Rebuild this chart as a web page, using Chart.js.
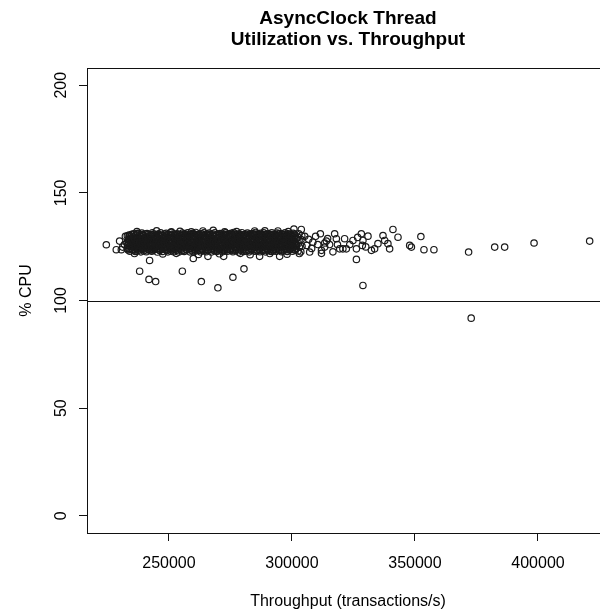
<!DOCTYPE html>
<html>
<head>
<meta charset="utf-8">
<script src="https://cdn.jsdelivr.net/npm/chart.js@4/dist/chart.umd.min.js"></script>
<style>
html,body{margin:0;padding:0;background:#fff;overflow:hidden;}
canvas{display:block;}
</style>
</head>
<body>
<canvas id="c" width="620" height="613"></canvas>
<script>
// ---- text ----
const titleLines = ["AsyncClock Thread", "Utilization vs. Throughput"];
const xAxisTitle = "Throughput (transactions/s)";
const yAxisTitle = "% CPU";

// ---- tick labels ----
const xTicks = [250000, 300000, 350000, 400000];
const yTicks = [0, 50, 100, 150, 200];
const referenceCPU = 100;

// ---- dense cluster, layer A (throughput, % CPU) ----
const blobThroughput = [
233000,233500,233200,233700,232900,233400,
234100,234600,234300,234000,234500,234200,
235300,235800,235400,235700,235200,235600,
236300,236800,236500,236200,236700,236400,
237500,237900,237600,238000,237400,237800,
238600,239100,238700,238900,238500,239000,
239700,240200,239800,240100,239600,240000,
240800,241300,240900,241200,240700,241100,
242000,242400,242100,242500,241900,242300,
243000,243500,243100,243400,242900,243300,
244100,244600,244200,244500,244000,244400,
245300,245700,245400,245800,245200,245600,
246300,246800,246400,246700,246200,246600,
247400,247900,247500,247800,247300,247700,
248600,249000,248700,249100,248500,248900,
249600,250100,249700,250000,249500,249900,
250700,251200,250800,251100,250600,251000,
251900,252300,252000,252400,251800,252200,
252900,253400,253000,253300,252800,253200,
254000,254500,254100,254400,253900,254300,
255200,255600,255300,255700,255100,255500,
256200,256700,256300,256600,256100,256500,
257300,257800,257400,257700,257200,257600,
258500,258900,258600,259000,258400,258800,
259500,260000,259600,259900,259400,259800,
260600,261100,260700,261000,260500,260900,
261800,262200,261900,262300,261700,262100,
262800,263300,262900,263200,262700,263100,
263900,264400,264000,264300,263800,264200,
265100,265500,265200,265600,265000,265400,
266100,266600,266200,266500,266000,266400,
267200,267700,267300,267600,267100,267500,
268400,268800,268500,268900,268300,268700,
269400,269900,269500,269800,269300,269700,
270500,271000,270600,270900,270400,270800,
271700,272100,271800,272200,271600,272000,
272700,273200,272800,273100,272600,273000,
273800,274300,273900,274200,273700,274100,
275000,275400,275100,275500,274900,275300,
276000,276500,276100,276400,275900,276300,
277100,277600,277200,277500,277000,277400,
278300,278700,278400,278800,278200,278600,
279300,279800,279400,279700,279200,279600,
280400,280900,280500,280800,280300,280700,
281600,282000,281700,282100,281500,281900,
282600,283100,282700,283000,282500,282900,
283700,284200,283800,284100,283600,284000,
284900,285300,285000,285400,284800,285200,
285900,286400,286000,286300,285800,286200,
287000,287500,287100,287400,286900,287300,
288200,288600,288300,288700,288100,288500,
289200,289700,289300,289600,289100,289500,
290300,290800,290400,290700,290200,290600,
291500,291900,291600,292000,291400,291800,
292500,293000,292600,292900,292400,292800,
293600,294100,293700,294000,293500,293900,
294800,295200,294900,295300,294700,295100,
295800,296300,295900,296200,295700,296100,
296900,297400,297000,297300,296800,297200,
298100,298500,298200,298600,298000,298400,
299100,299600,299200,299500,299000,299400,
300200,300700,300300,300600,300100,300500,
301400,301800,301500,301900,301300,301700,
302500,303000,302600,302900,302400,302800,
303600,304100,303700,304000
];
const blobCpu = [
124.1,127.3,125.6,129.0,126.8,123.5,
122.9,125.4,128.1,130.2,126.7,124.0,
123.6,126.2,129.4,131.0,124.9,127.7,
122.8,124.5,127.0,128.6,130.5,125.8,
123.3,125.1,126.5,128.9,131.2,127.6,
122.6,124.3,126.0,127.9,129.7,131.3,
123.1,125.7,124.4,128.4,130.0,127.0,
122.7,124.9,126.6,128.0,129.5,131.1,
123.4,125.2,127.3,126.1,129.9,128.6,
122.9,124.6,126.4,128.2,130.6,131.5,
123.8,125.5,127.1,129.1,124.2,130.3,
122.5,124.1,126.9,125.6,128.5,130.9,
123.2,125.0,126.3,128.0,129.6,131.4,
122.8,124.7,127.5,126.0,130.1,128.8,
123.6,125.3,126.8,128.3,129.9,131.2,
122.6,124.2,125.9,127.6,129.3,130.7,
123.0,124.8,126.5,128.1,130.4,131.6,
122.7,125.6,124.0,127.4,129.0,130.8,
123.3,124.9,126.2,128.7,127.8,131.0,
122.5,124.4,126.0,127.7,129.4,130.5,
123.1,125.2,126.9,128.3,130.1,131.3,
122.8,124.6,125.8,127.5,129.2,130.9,
123.5,125.0,126.6,128.9,128.0,131.5,
122.6,124.3,126.1,127.3,129.7,130.6,
123.0,125.5,124.7,128.2,129.9,131.2,
122.9,124.5,126.3,127.9,130.3,131.6,
123.4,125.1,126.8,128.4,129.1,130.7,
122.6,124.0,126.0,127.6,129.5,131.0,
123.2,125.4,126.7,128.5,130.2,131.4,
122.7,124.8,125.9,127.4,129.3,130.8,
123.6,125.1,127.0,128.7,130.0,131.3,
122.5,124.2,126.4,127.8,129.6,130.5,
123.1,124.9,126.2,128.1,129.8,131.5,
122.8,125.6,124.4,127.5,130.4,128.9,
123.4,125.0,126.6,128.3,129.2,131.1,
122.6,124.5,125.8,127.2,129.7,130.6,
123.0,124.7,126.9,128.6,130.1,131.4,
122.9,125.3,126.1,127.7,129.4,130.9,
123.5,124.3,126.5,128.0,129.9,131.2,
122.7,125.1,126.3,127.9,130.5,131.6,
123.2,124.8,126.7,128.4,129.1,130.7,
122.5,124.4,126.0,127.6,129.6,131.0,
123.3,125.5,126.8,128.2,130.2,131.5,
122.8,124.6,125.7,127.3,129.0,130.6,
123.0,125.0,126.4,128.7,130.0,131.3,
122.6,124.2,126.2,127.8,129.5,130.9,
123.4,125.3,126.9,128.5,129.8,131.1,
122.9,124.7,126.1,127.5,130.3,131.6,
123.1,125.2,126.6,128.1,129.3,130.7,
122.7,124.5,125.9,127.7,129.9,131.2,
123.5,124.9,126.5,128.3,130.1,131.4,
122.6,124.3,126.3,127.9,129.2,130.8,
123.2,125.4,126.7,128.6,129.7,131.0,
122.8,124.6,126.0,127.4,130.4,131.5,
123.0,125.1,126.8,128.2,129.5,130.6,
122.9,124.4,126.2,127.8,129.9,131.3,
123.4,125.0,126.4,128.5,130.2,131.1,
122.7,124.8,126.6,127.6,129.4,130.7,
123.3,125.3,126.1,128.0,129.8,131.4,
122.8,124.5,126.7,127.5,130.0,131.0,
123.6,125.2,126.3,128.4,129.2,130.6,
122.9,124.7,126.9,127.8,129.6,131.2,
123.5,125.6,126.2,128.7,130.3,124.3,
123.0,124.9,126.5,127.9,129.5,131.0,
122.6,125.2,128.3,130.1
];

// ---- dense cluster, layer B (throughput, % CPU) ----
const blobThroughputB = [
233700,234000,233600,233900,233800,
234900,235100,234800,235000,234900,
236000,236200,235900,236100,236000,
237100,237300,237000,237200,237100,
238200,238400,238100,238300,238200,
239300,239500,239200,239400,239300,
240400,240600,240300,240500,240400,
241500,241700,241400,241600,241500,
242600,242900,242700,242800,242600,
243700,244000,243800,243900,243700,
244900,245100,244800,245000,244900,
246000,246200,245900,246100,246000,
247100,247300,247000,247200,247100,
248200,248400,248100,248300,248200,
249300,249500,249200,249400,249300,
250400,250600,250300,250500,250400,
251500,251700,251400,251600,251500,
252600,252800,252500,252700,252600,
253700,253900,253600,253800,253700,
254800,255000,254700,254900,254800,
255900,256100,255800,256000,255900,
257000,257200,256900,257100,257000,
258100,258300,258000,258200,258100,
259200,259400,259100,259300,259200,
260300,260500,260200,260400,260300,
261400,261600,261300,261500,261400,
262500,262700,262400,262600,262500,
263600,263800,263500,263700,263600,
264700,264900,264600,264800,264700,
265800,266000,265700,265900,265800,
266900,267100,266800,267000,266900,
268000,268200,267900,268100,268000,
269100,269300,269000,269200,269100,
270200,270400,270100,270300,270200,
271300,271500,271200,271400,271300,
272400,272600,272300,272500,272400,
273500,273700,273400,273600,273500,
274600,274800,274500,274700,274600,
275700,275900,275600,275800,275700,
276800,277000,276700,276900,276800,
277900,278100,277800,278000,277900,
279000,279200,278900,279100,279000,
280100,280300,280000,280200,280100,
281200,281400,281100,281300,281200,
282300,282500,282200,282400,282300,
283400,283600,283300,283500,283400,
284500,284700,284400,284600,284500,
285600,285800,285500,285700,285600,
286700,286900,286600,286800,286700,
287800,288000,287700,287900,287800,
288900,289100,288800,289000,288900,
290000,290200,289900,290100,290000,
291100,291300,291000,291200,291100,
292200,292400,292100,292300,292200,
293300,293500,293200,293400,293300,
294400,294600,294300,294500,294400,
295500,295700,295400,295600,295500,
296600,296800,296500,296700,296600,
297700,297900,297600,297800,297700,
298800,299000,298700,298900,298800,
299900,300100,299800,300000,299900,
301000,301200,300900,301100,301000
];
const blobCpuB = [
123.9,125.5,127.0,128.5,130.4,
123.7,125.3,127.4,128.9,130.7,
123.4,125.0,126.8,128.4,130.0,
123.9,125.6,127.3,129.2,131.0,
123.6,125.4,127.1,128.7,130.4,
123.8,125.0,126.9,128.8,130.6,
123.5,125.3,127.2,129.0,130.8,
123.9,125.8,127.5,128.7,130.5,
123.6,125.0,126.9,128.5,130.2,
123.4,125.2,127.4,129.1,130.9,
123.8,125.6,126.9,128.6,130.4,
123.5,125.3,127.2,128.9,130.6,
123.9,125.5,126.8,128.5,130.3,
123.7,125.1,127.1,129.0,130.8,
123.4,125.7,127.3,128.8,130.5,
123.8,125.4,126.9,128.6,130.2,
123.6,125.2,127.2,129.2,130.9,
123.9,125.6,127.4,128.9,130.4,
123.5,125.1,126.8,128.5,130.7,
123.8,125.5,127.1,128.7,130.3,
123.4,125.3,127.3,129.0,130.6,
123.7,125.6,126.9,128.6,130.8,
123.9,125.2,127.2,128.8,130.4,
123.5,125.4,127.4,129.1,130.9,
123.8,125.7,127.0,128.5,130.2,
123.6,125.1,126.8,128.9,130.6,
123.4,125.5,127.3,128.7,130.4,
123.9,125.3,127.1,129.0,130.8,
123.7,125.6,127.4,128.6,130.3,
123.5,125.2,126.9,128.8,130.7,
123.8,125.4,127.2,129.1,130.5,
123.6,125.7,127.0,128.5,130.9,
123.4,125.1,127.3,128.9,130.2,
123.9,125.5,126.8,128.7,130.6,
123.7,125.3,127.1,129.0,130.4,
123.5,125.6,127.4,128.6,130.8,
123.8,125.2,126.9,128.8,130.3,
123.6,125.4,127.2,129.1,130.7,
123.4,125.7,127.0,128.5,130.5,
123.9,125.1,127.3,128.9,130.9,
123.7,125.5,126.8,128.7,130.2,
123.5,125.3,127.1,129.0,130.6,
123.8,125.6,127.4,128.6,130.4,
123.6,125.2,126.9,128.8,130.8,
123.4,125.4,127.2,129.1,130.3,
123.9,125.7,127.0,128.5,130.7,
123.7,125.1,127.3,128.9,130.5,
123.5,125.5,126.8,128.7,130.9,
123.8,125.3,127.1,129.0,130.2,
123.6,125.6,127.4,128.6,130.6,
123.4,125.2,126.9,128.8,130.4,
123.9,125.4,127.2,129.1,130.8,
123.7,125.7,127.0,128.5,130.3,
123.5,125.1,127.3,128.9,130.7,
123.8,125.5,126.8,128.7,130.5,
123.6,125.3,127.1,129.0,130.9,
123.4,125.6,127.4,128.6,130.2,
123.9,125.2,126.9,128.8,130.6,
123.7,125.4,127.2,129.1,130.4,
123.5,125.7,127.0,128.5,130.8,
123.8,125.1,127.3,128.9,130.3,
123.6,125.5,126.8,128.7,130.7
];

// ---- ragged edge of the cluster (throughput, % CPU) ----
const edgeThroughput = [
237000,245000,254500,268000,277500,289000,298500,300800,
236000,247500,253000,262000,270500,279000,283000,291000,298000,303000
];
const edgeCpu = [
132.0,132.4,132.1,132.6,132.0,132.4,132.0,133.2,
121.8,121.6,121.9,121.4,121.7,121.9,121.3,121.8,121.5,121.8
];

// ---- scattered points (throughput, % CPU) ----
const sparseThroughput = [
224550,228600,230650,229950,231900,232300,231200,
242150,238100,241900,244600,255450,259900,263170,265850,269900,
272250,276000,280500,286850,295000,
250980,259100,263800,272650,284850,294300,303800,233100,
305200,306000,306800,307200,308000,308500,309600,310500,311550,312000,
313300,313300,314000,314500,315300,316650,317350,318050,318500,319400,
320700,321400,322100,323500,324800,326200,326200,326700,328200,328850,
328600,328850,330000,330900,332300,333600,334950,337000,337700,339000,
339700,341050,343100,347850,348550,352400,353650,357700,371800,372850,
382400,386450,398400,421000,312000
];
const sparseCpu = [
125.9,123.6,123.6,127.6,126.0,129.8,124.8,
118.6,113.6,109.8,108.8,113.6,119.5,108.8,120.5,105.9,
120.5,110.8,114.7,120.5,120.5,
131.9,131.9,132.3,131.9,132.3,132.3,133.0,130.0,
129.8,125.6,128.4,122.5,124.2,127.1,129.8,126.0,131.0,123.3,
126.7,124.8,127.6,128.8,126.0,122.6,131.0,128.7,126.0,124.0,
124.0,128.7,124.0,126.0,127.9,124.0,119.1,129.3,131.0,127.9,
125.6,107.0,124.9,129.9,123.3,124.0,126.4,130.2,127.9,126.4,
124.0,133.0,129.4,125.6,124.8,129.7,123.6,123.6,122.5,91.8,
124.8,124.8,126.7,127.6,121.9
];

const points = [];
blobThroughput.forEach((v, i) => points.push({x: v, y: blobCpu[i]}));
blobThroughputB.forEach((v, i) => points.push({x: v, y: blobCpuB[i]}));
edgeThroughput.forEach((v, i) => points.push({x: v, y: edgeCpu[i]}));
sparseThroughput.forEach((v, i) => points.push({x: v, y: sparseCpu[i]}));

const FONT = "'Liberation Sans', Arial, Helvetica, sans-serif";

const decor = {
  id: 'decor',
  afterDatasetsDraw(chart) {
    const {ctx, chartArea: a, scales: {x, y}} = chart;
    ctx.save();
    ctx.strokeStyle = '#111';
    ctx.lineWidth = 1;
    // reference line
    const yr = Math.round(y.getPixelForValue(referenceCPU)) + 0.5;
    ctx.beginPath(); ctx.moveTo(a.left, yr); ctx.lineTo(a.right, yr); ctx.stroke();
    // plot box
    ctx.strokeRect(Math.round(a.left) + 0.5, Math.round(a.top) + 0.5,
                   Math.round(a.right - a.left), Math.round(a.bottom - a.top));
    ctx.fillStyle = '#000';
    // x tick labels
    ctx.font = '16px ' + FONT;
    ctx.textAlign = 'center';
    ctx.textBaseline = 'alphabetic';
    x.ticks.forEach(t => ctx.fillText(String(t.value), x.getPixelForValue(t.value), a.bottom + 35));
    // y tick labels (rotated)
    y.ticks.forEach(t => {
      ctx.save();
      ctx.translate(a.left - 21.5, y.getPixelForValue(t.value));
      ctx.rotate(-Math.PI / 2);
      ctx.fillText(String(t.value), 0, 0);
      ctx.restore();
    });
    // axis titles
    const cx = (a.left + a.right) / 2;
    ctx.fillText(xAxisTitle, cx, a.bottom + 73);
    ctx.save();
    ctx.translate(31, (a.top + a.bottom) / 2 - 10);
    ctx.rotate(-Math.PI / 2);
    ctx.fillText(yAxisTitle, 0, 0);
    ctx.restore();
    // main title
    ctx.font = 'bold 19px ' + FONT;
    ctx.fillText(titleLines[0], cx, 23.5);
    ctx.fillText(titleLines[1], cx, 44.5);
    ctx.restore();
  }
};

new Chart(document.getElementById('c'), {
  type: 'scatter',
  data: {
    datasets: [{
      data: points,
      pointStyle: 'circle',
      pointRadius: 3.2,
      pointHoverRadius: 3.2,
      pointBorderWidth: 1.2,
      pointBorderColor: '#1a1a1a',
      pointBackgroundColor: 'rgba(0,0,0,0)',
      showLine: false
    }]
  },
  options: {
    responsive: false,
    animation: false,
    devicePixelRatio: 1,
    events: [],
    layout: {padding: {top: 68, right: 11, left: 0, bottom: 0}},
    plugins: {legend: {display: false}, tooltip: {enabled: false}, title: {display: false}},
    scales: {
      x: {
        type: 'linear', min: 216700, max: 428860,
        afterBuildTicks: s => { s.ticks = xTicks.map(v => ({value: v})); },
        afterFit: s => { s.height = 80; },
        ticks: {display: false},
        border: {display: false},
        grid: {display: true, drawOnChartArea: false, drawTicks: true, tickLength: 8, color: '#111', lineWidth: 1}
      },
      y: {
        type: 'linear', min: -8, max: 208,
        afterBuildTicks: s => { s.ticks = yTicks.map(v => ({value: v})); },
        afterFit: s => { s.width = 87; },
        ticks: {display: false},
        border: {display: false},
        grid: {display: true, drawOnChartArea: false, drawTicks: true, tickLength: 8, color: '#111', lineWidth: 1}
      }
    }
  },
  plugins: [decor]
});
</script>
</body>
</html>
